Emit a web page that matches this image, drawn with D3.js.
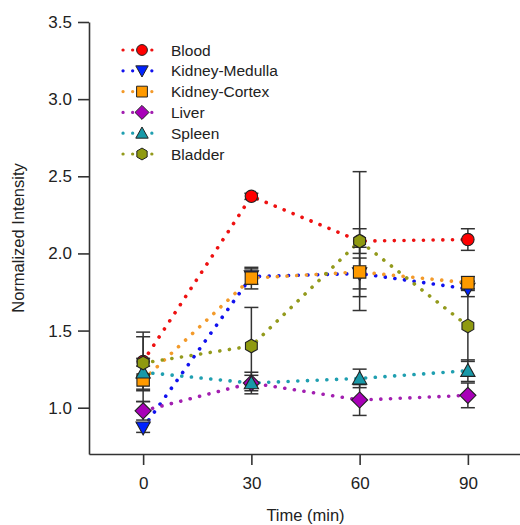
<!DOCTYPE html>
<html>
<head>
<meta charset="utf-8">
<script src="https://cdn.jsdelivr.net/npm/d3@7"></script>
<style>
  body { margin: 0; background: #fff; }
  text { font-family: "Liberation Sans", Arial, sans-serif; fill: #222; }
</style>
</head>
<body>
<script>
const width = 520;
const height = 525;

// time points (min)
const times = [0, 30, 60, 90];
const xTicks = [0, 30, 60, 90];
const yTicks = [1.0, 1.5, 2.0, 2.5, 3.0, 3.5];

const seriesNames = ['Blood', 'Kidney-Medulla', 'Kidney-Cortex', 'Liver', 'Spleen', 'Bladder'];

// mean values per series, in the order of times
const blood   = [1.30, 2.37, 2.08, 2.09];
const medulla = [0.87, 1.85, 1.87, 1.77];
const cortex  = [1.18, 1.84, 1.88, 1.81];
const liver   = [0.98, 1.16, 1.05, 1.08];
const spleen  = [1.23, 1.16, 1.19, 1.24];
const bladder = [1.29, 1.40, 2.08, 1.53];

// error bar half-widths
const bloodErr   = [0.19, 0.02, 0.08, 0.07];
const medullaErr = [0.03, 0.05, 0.10, 0.05];
const cortexErr  = [0.14, 0.07, 0.16, 0.04];
const liverErr   = [0.06, 0.05, 0.10, 0.08];
const spleenErr  = [0.04, 0.07, 0.06, 0.07];
const bladderErr = [0.17, 0.25, 0.45, 0.23];

const lineColors   = ['#ee1111', '#1111ee', '#f39a2a', '#a21fb0', '#1f9fb0', '#939a1c'];
const markerColors = ['#ff0000', '#0022ff', '#ff9a00', '#a800b8', '#1899a8', '#8f9a10'];
const markerShapes = ['circle', 'triangleDown', 'square', 'diamond', 'triangle', 'hexagon'];

const allMeans = [blood, medulla, cortex, liver, spleen, bladder];
const allErrs = [bloodErr, medullaErr, cortexErr, liverErr, spleenErr, bladderErr];

const series = seriesNames.map((name, i) => ({
  name: name,
  color: lineColors[i],
  fill: markerColors[i],
  shape: markerShapes[i],
  points: times.map((t, j) => ({ t: t, v: allMeans[i][j], e: allErrs[i][j] }))
}));

const svg = d3.create('svg')
  .attr('width', width)
  .attr('height', height);

document.body.appendChild(svg.node());

const x = d3.scaleLinear().domain([-15, 105]).range([89, 522]);
const y = d3.scaleLinear().domain([0.7, 3.5]).range([454, 22]);

// marker path for a given shape
function markerPath(shape, r) {
  if (shape === 'circle') {
    return d3.symbol(d3.symbolCircle, Math.PI * r * r)();
  }
  if (shape === 'square') {
    return `M${-r},${-r}H${r}V${r}H${-r}Z`;
  }
  if (shape === 'diamond') {
    const d = r * 1.3;
    return `M0,${-d}L${d},0L0,${d}L${-d},0Z`;
  }
  if (shape === 'triangle') {
    const h = r * 1.15;
    return `M0,${-h}L${h},${h * 0.8}L${-h},${h * 0.8}Z`;
  }
  if (shape === 'triangleDown') {
    const h = r * 1.15;
    return `M0,${h}L${h},${-h * 0.8}L${-h},${-h * 0.8}Z`;
  }
  // hexagon
  const pts = d3.range(6).map(k => {
    const a = Math.PI / 6 + k * Math.PI / 3;
    return [r * 1.1 * Math.cos(a), r * 1.1 * Math.sin(a)];
  });
  return 'M' + pts.join('L') + 'Z';
}

// axes
const yAxis = svg.append('g')
  .attr('transform', `translate(${x.range()[0]},0)`)
  .call(d3.axisLeft(y).tickValues(yTicks).tickFormat(d3.format('.1f')).tickSize(11).tickSizeOuter(0));

const xAxis = svg.append('g')
  .attr('transform', `translate(0,${y.range()[0]})`)
  .call(d3.axisBottom(x).tickValues(xTicks).tickSize(11).tickSizeOuter(0));

[yAxis, xAxis].forEach(ax => {
  ax.select('.domain').attr('stroke', '#333').attr('stroke-width', 1.6);
  ax.selectAll('.tick line').attr('stroke', '#333').attr('stroke-width', 1.6);
  ax.selectAll('.tick text')
    .attr('font-size', 17)
    .attr('font-family', '"Liberation Sans", Arial, sans-serif')
    .attr('fill', '#222');
});
yAxis.selectAll('.tick text').attr('x', -17);
xAxis.selectAll('.tick text').attr('y', 23);

svg.append('text')
  .attr('x', (x.range()[0] + x.range()[1]) / 2)
  .attr('y', 521)
  .attr('text-anchor', 'middle')
  .attr('font-size', 16.5)
  .text('Time (min)');

svg.append('text')
  .attr('transform', `translate(24,${(y.range()[0] + y.range()[1]) / 2}) rotate(-90)`)
  .attr('text-anchor', 'middle')
  .attr('font-size', 16.5)
  .text('Normalized Intensity');

const line = d3.line()
  .x(d => x(d.t))
  .y(d => y(d.v));

// dotted lines
svg.append('g')
  .selectAll('path')
  .data(series)
  .enter()
  .append('path')
  .attr('d', d => line(d.points))
  .attr('fill', 'none')
  .attr('stroke', d => d.color)
  .attr('stroke-width', 3.6)
  .attr('stroke-linecap', 'round')
  .attr('stroke-dasharray', '0.1,9.6');

// error bars
const errG = svg.append('g');
series.forEach(s => {
  const g = errG.selectAll(null)
    .data(s.points)
    .enter()
    .append('g')
    .attr('stroke', '#333')
    .attr('stroke-width', 1.5);
  g.append('line')
    .attr('x1', d => x(d.t)).attr('x2', d => x(d.t))
    .attr('y1', d => y(d.v - d.e)).attr('y2', d => y(d.v + d.e));
  g.append('line')
    .attr('x1', d => x(d.t) - 7).attr('x2', d => x(d.t) + 7)
    .attr('y1', d => y(d.v + d.e)).attr('y2', d => y(d.v + d.e));
  g.append('line')
    .attr('x1', d => x(d.t) - 7).attr('x2', d => x(d.t) + 7)
    .attr('y1', d => y(d.v - d.e)).attr('y2', d => y(d.v - d.e));
});

// markers
series.forEach(s => {
  svg.append('g')
    .selectAll('path')
    .data(s.points)
    .enter()
    .append('path')
    .attr('transform', d => `translate(${x(d.t)},${y(d.v)})`)
    .attr('d', markerPath(s.shape, 6.2))
    .attr('fill', s.fill)
    .attr('stroke', '#222')
    .attr('stroke-width', 1.1);
});

// legend
const legend = svg.append('g')
  .attr('transform', 'translate(0,50)');

const rows = legend.selectAll('g')
  .data(series)
  .enter()
  .append('g')
  .attr('transform', (d, i) => `translate(0,${i * 20.8})`);

rows.append('line')
  .attr('x1', 123).attr('x2', 155)
  .attr('y1', 0).attr('y2', 0)
  .attr('stroke', d => d.color)
  .attr('stroke-width', 3.2)
  .attr('stroke-linecap', 'round')
  .attr('stroke-dasharray', '0.1,9.5');

rows.append('path')
  .attr('transform', 'translate(142,0)')
  .attr('d', d => markerPath(d.shape, 5.4))
  .attr('fill', d => d.fill)
  .attr('stroke', '#222')
  .attr('stroke-width', 1);

rows.append('text')
  .attr('x', 171)
  .attr('y', 5.5)
  .attr('font-size', 15.5)
  .text(d => d.name);
</script>
</body>
</html>
